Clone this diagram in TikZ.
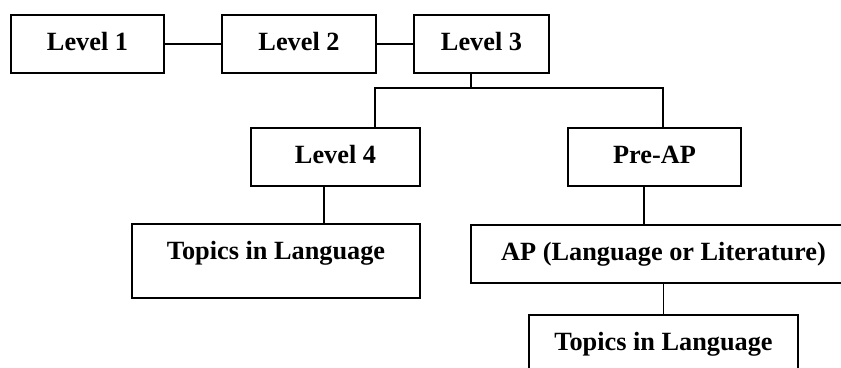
\documentclass[tikz,border=0pt]{standalone}
\usepackage{fontspec}
\setmainfont{Liberation Serif}
\usetikzlibrary{calc}

\tikzset{
  levelbox/.style={draw, line width=2pt, anchor=north west, inner xsep=0pt, inner ysep=17.5pt,
    text height=18pt, text depth=5pt, font=\fontsize{26.3}{30}\selectfont\bfseries},
  link/.style={line width=1.8pt}
}

\begin{document}
\begin{tikzpicture}[x=1pt, y=-1pt]
      \useasboundingbox (0,0) rectangle (841,367);
      \clip (0,0) rectangle (841,367);

      % top row
      \node[levelbox, minimum width=153pt] (lev1) at (10,14) {Level 1};
      \node[levelbox, minimum width=154pt] (lev2) at (221,14) {Level 2};
      \node[levelbox, minimum width=135pt] (lev3) at (413,14) {Level 3};

      % second row
      \node[levelbox, minimum width=169pt] (lev4) at (250,127) {Level 4};
      \node[levelbox, minimum width=173pt] (preap) at (567,127) {Pre-AP};

      % third row
      \node[levelbox, minimum width=288pt, text depth=21pt] (topicsl) at (131,223) {Topics in Language};
      \node[levelbox, minimum width=385pt] (ap) at (470,224) {AP (Language or Literature)};

      % last one
      \node[levelbox, minimum width=269pt, text depth=30pt] (topicsr) at (528,314) {Topics in Language};

      \coordinate (fork) at (471,88);
      \coordinate (forkl) at (375,88);
      \coordinate (forkr) at (663,88);

      \draw[link] (lev1) -- (lev2);
      \draw[link] (lev2) -- (lev3);
      \draw[link] (lev3.south -| fork) -- (fork);
      \draw[link] (lev4.north -| forkl) -- (forkl) -- (forkr) -- (preap.north -| forkr);
      \draw[link] ([xshift=-11.5pt]lev4.south) -- ([xshift=-11.5pt]lev4.south |- topicsl.north);
      \draw[link] ([xshift=-10.5pt]preap.south) -- ([xshift=-10.5pt]preap.south |- ap.north);
      \draw[link] (ap.south -| topicsr.north) -- (topicsr.north);
\end{tikzpicture}
\end{document}
